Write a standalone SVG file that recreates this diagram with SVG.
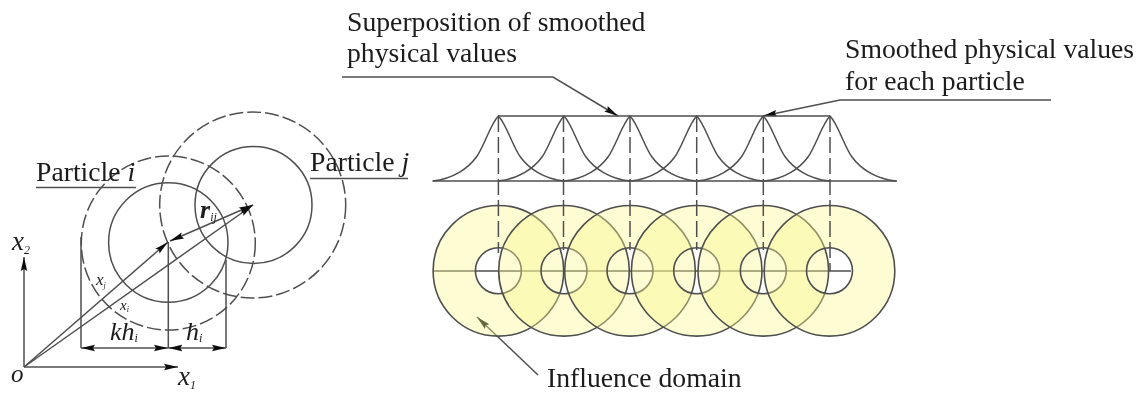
<svg xmlns="http://www.w3.org/2000/svg" width="1141" height="395" viewBox="0 0 1141 395">
<style>
text{font-family:"Liberation Serif","Times New Roman",serif;fill:#1c1c1c}
.l{font-size:27.7px}
.it{font-style:italic}
.ln{fill:none;stroke:#4f4f4f;stroke-width:1.5}
.dash{fill:none;stroke:#4f4f4f;stroke-width:1.5;stroke-dasharray:16 5}
.dc{fill:none;stroke:#4f4f4f;stroke-width:1.5;stroke-dasharray:14 4}
.an{fill:#faf68c;fill-opacity:.38;fill-rule:evenodd;stroke:#4f4f4f;stroke-width:1.6}
</style>
<defs>
<filter id="soft" x="0" y="0" width="100%" height="100%" filterUnits="userSpaceOnUse"><feGaussianBlur stdDeviation="0.45"/></filter>
<marker id="a" markerUnits="userSpaceOnUse" markerWidth="18" markerHeight="8" refX="14" refY="4" orient="auto-start-reverse"><path d="M0,0.800 L14,4 L0,7.200 L2,4 Z" fill="#111"/></marker>
<path id="bell" d="M-66,65 C-45,63 -30,52 -22,41 C-14,30 -8,8 0,0 C8,8 14,30 22,41 C30,52 45,63 66,65"/>
<path id="ann" d="M-65.300,0 A65.300,65.300 0 1 0 65.300,0 A65.300,65.300 0 1 0 -65.300,0 Z M-23,0 A23,23 0 1 0 23,0 A23,23 0 1 0 -23,0 Z"/>
</defs>
<g filter="url(#soft)">
<g id="particle-i">
<circle class="ln" cx="168.300" cy="242.500" r="59.700"/>
<circle class="dc" cx="168.300" cy="243" r="87"/>
<text class="l" x="36" y="181">Particle <tspan class="it">i</tspan></text>
<path class="ln" d="M36,187.500H136"/>
</g>
<g id="particle-j">
<circle class="ln" cx="253.500" cy="205" r="58.500"/>
<circle class="dc" cx="252.700" cy="205" r="93"/>
<text class="l" x="310" y="171">Particle <tspan class="it">j</tspan></text>
<path class="ln" d="M310,178.500H408"/>
</g>
<g id="connectors">
<path class="ln" d="M81,237V348M168.300,242V348M226,260V348"/>
<path class="ln" d="M24,367V257" marker-end="url(#a)"/>
<path class="ln" d="M24,367H178" marker-end="url(#a)"/>
<path class="ln" d="M24,367L168,242" marker-end="url(#a)"/>
<path class="ln" d="M24,367L253,205" marker-end="url(#a)"/>
<path class="ln" d="M170,241L253,205" marker-start="url(#a)" marker-end="url(#a)"/>
<path class="ln" d="M81,348H168" marker-start="url(#a)" marker-end="url(#a)"/>
<path class="ln" d="M168.300,348H226" marker-start="url(#a)" marker-end="url(#a)"/>
<path class="ln" d="M342,77H553L618,116" marker-end="url(#a)"/>
<path class="ln" d="M1051,100H840L763,116" marker-end="url(#a)"/>
<path class="ln" d="M538,375L477,317" marker-end="url(#a)"/>
</g>
<g id="axis-labels">
<text class="it" x="12" y="250" font-size="27">x<tspan font-size="12" dy="4">2</tspan></text>
<text class="it" x="178" y="385" font-size="27">x<tspan font-size="12" dy="4">1</tspan></text>
<text class="it" x="11" y="382" font-size="25">o</text>
<text class="it" x="200" y="218" font-size="26" font-weight="bold">r<tspan font-size="12" font-weight="normal" dy="3">ij</tspan></text>
<text class="it" x="96" y="285" font-size="17">x<tspan font-size="8" dy="3">j</tspan></text>
<text class="it" x="120" y="310" font-size="15">x<tspan font-size="8" dy="2">i</tspan></text>
<text class="it" x="110" y="340" font-size="26">kh<tspan font-size="12" dy="2">i</tspan></text>
<text class="it" x="186" y="340" font-size="26">h<tspan font-size="12" dy="2">i</tspan></text>
</g>
<g id="annuli">
<path class="ln" d="M433,271H851"/>
<use href="#ann" class="an" x="498.400" y="270.800"/>
<use href="#ann" class="an" x="564" y="270.800"/>
<use href="#ann" class="an" x="630" y="270.800"/>
<use href="#ann" class="an" x="696.700" y="270.800"/>
<use href="#ann" class="an" x="763.300" y="270.800"/>
<use href="#ann" class="an" x="829.500" y="270.800"/>
</g>
<g id="profile">
<path class="ln" d="M498,116H830M433,181H897"/>
<use href="#bell" class="ln" x="498.400" y="116"/>
<use href="#bell" class="ln" x="564" y="116"/>
<use href="#bell" class="ln" x="630" y="116"/>
<use href="#bell" class="ln" x="696.700" y="116"/>
<use href="#bell" class="ln" x="763.300" y="116"/>
<use href="#bell" class="ln" x="830" y="116"/>
<path class="dash" d="M498.400,116V253M563.500,116V250M630,116V250M696.700,116V250M763.300,116V250M830,116V271"/>
</g>
<g id="label-superposition">
<text class="l" x="347" y="31">Superposition of smoothed</text>
<text class="l" x="347" y="62">physical values</text>
</g>
<g id="label-smoothed">
<text class="l" x="845" y="58">Smoothed physical values</text>
<text class="l" x="845" y="90">for each particle</text>
</g>
<g id="label-influence">
<text class="l" x="547" y="387">Influence domain</text>
</g>
</g>
</svg>
